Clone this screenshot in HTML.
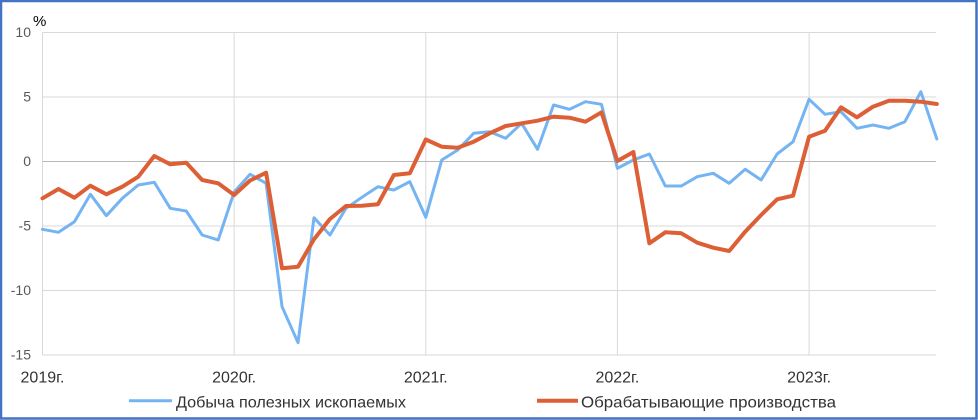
<!DOCTYPE html>
<html>
<head>
<meta charset="utf-8">
<style>
html,body{margin:0;padding:0;background:#fff;}
body{width:978px;height:420px;overflow:hidden;}
svg{display:block;}
text{font-family:"Liberation Sans",Arial,sans-serif;}
</style>
</head>
<body>
<svg width="978" height="420" viewBox="0 0 978 420" xmlns="http://www.w3.org/2000/svg">
  <rect x="0" y="0" width="978" height="420" fill="#ffffff"/>
  <!-- horizontal gridlines -->
  <g stroke="#d9d9d9" stroke-width="1">
    <line x1="42.5" y1="32.5" x2="936" y2="32.5"/>
    <line x1="42.5" y1="97" x2="936" y2="97"/>
    <line x1="42.5" y1="226" x2="936" y2="226"/>
    <line x1="42.5" y1="290.5" x2="936" y2="290.5"/>
    <line x1="42.5" y1="355" x2="936" y2="355"/>
    <!-- vertical gridlines -->
    <line x1="42.5" y1="32.5" x2="42.5" y2="355"/>
    <line x1="234.1" y1="32.5" x2="234.1" y2="355"/>
    <line x1="425.8" y1="32.5" x2="425.8" y2="355"/>
    <line x1="617.4" y1="32.5" x2="617.4" y2="355"/>
    <line x1="809.1" y1="32.5" x2="809.1" y2="355"/>
  </g>
  <line x1="42.5" y1="161.5" x2="936" y2="161.5" stroke="#b8b8b8" stroke-width="1"/>

  <!-- y labels -->
  <g font-size="14" fill="#595959" text-anchor="end">
    <text x="31" y="37">10</text>
    <text x="31" y="101.5">5</text>
    <text x="31" y="166">0</text>
    <text x="31" y="230.5">-5</text>
    <text x="31" y="295">-10</text>
    <text x="31" y="359.5">-15</text>
  </g>
  <text x="33" y="26" font-size="15" fill="#000">%</text>

  <!-- x labels -->
  <g font-size="16" fill="#333" text-anchor="middle">
    <text x="42.5" y="382.5">2019г.</text>
    <text x="234.1" y="382.5">2020г.</text>
    <text x="425.8" y="382.5">2021г.</text>
    <text x="617.4" y="382.5">2022г.</text>
    <text x="809.1" y="382.5">2023г.</text>
  </g>

  <!-- blue series -->
  <polyline fill="none" stroke="#74b4f2" stroke-width="3" stroke-linejoin="round" stroke-linecap="round"
    points="42.5,229.3 58.47,232.3 74.44,221.7 90.41,194.3 106.38,215.7 122.35,198.3 138.32,185 154.29,182.3 170.26,208.3 186.23,211 202.2,235 218.17,240 234.14,192 250.11,174.3 266.08,183.3 282.05,306.7 298.02,342.7 313.99,217.7 329.96,235 345.93,208.3 361.9,197.3 377.87,186.7 393.84,190 409.81,181.7 425.78,217.3 441.75,160 457.72,150 473.69,133.3 489.66,131.7 505.63,138.3 521.6,123.3 537.57,149.3 553.54,105 569.51,109.3 585.48,101.7 601.45,104.3 617.42,168.3 633.39,160 649.36,154 665.33,186 681.3,186 697.27,176.7 713.24,173.3 729.21,183.3 745.18,169.3 761.15,180 777.12,154 793.09,141.7 809.06,99.3 825.03,114.3 841,111.7 856.97,128.3 872.94,125 888.91,128.3 904.88,121.7 920.85,91.7 936.82,139"/>

  <!-- orange series -->
  <polyline fill="none" stroke="#dd5f35" stroke-width="4" stroke-linejoin="round" stroke-linecap="round"
    points="42.5,198.3 58.47,189 74.44,197.7 90.41,185.7 106.38,194.3 122.35,186.7 138.32,176.7 154.29,156 170.26,164.3 186.23,162.7 202.2,180 218.17,183.3 234.14,195 250.11,180.5 266.08,172.7 282.05,268.3 298.02,266.7 313.99,239.3 329.96,219 345.93,206 361.9,205.7 377.87,204.3 393.84,175 409.81,173.3 425.78,139.5 441.75,146.7 457.72,147.7 473.69,141.7 489.66,133.3 505.63,126 521.6,123.3 537.57,120.7 553.54,116.7 569.51,117.7 585.48,121.7 601.45,112.3 617.42,161 633.39,152 649.36,243.3 665.33,232.3 681.3,233.3 697.27,242.7 713.24,247.7 729.21,251 745.18,231.7 761.15,215 777.12,199.3 793.09,195.7 809.06,136.7 825.03,130.7 841,107.3 856.97,117.3 872.94,106.7 888.91,100.7 904.88,100.7 920.85,101.7 936.82,104"/>

  <!-- legend -->
  <line x1="129" y1="400.7" x2="172" y2="400.7" stroke="#74b4f2" stroke-width="3"/>
  <text x="176" y="407.5" font-size="16" fill="#333" textLength="230" lengthAdjust="spacingAndGlyphs">Добыча полезных ископаемых</text>
  <line x1="537" y1="400.7" x2="578" y2="400.7" stroke="#dd5f35" stroke-width="4"/>
  <text x="581" y="407.5" font-size="16" fill="#333" textLength="255" lengthAdjust="spacingAndGlyphs">Обрабатывающие производства</text>

  <!-- border -->
  <rect x="1" y="1" width="975.5" height="417.5" fill="none" stroke="#4472c4" stroke-width="2.5"/>
</svg>
</body>
</html>
